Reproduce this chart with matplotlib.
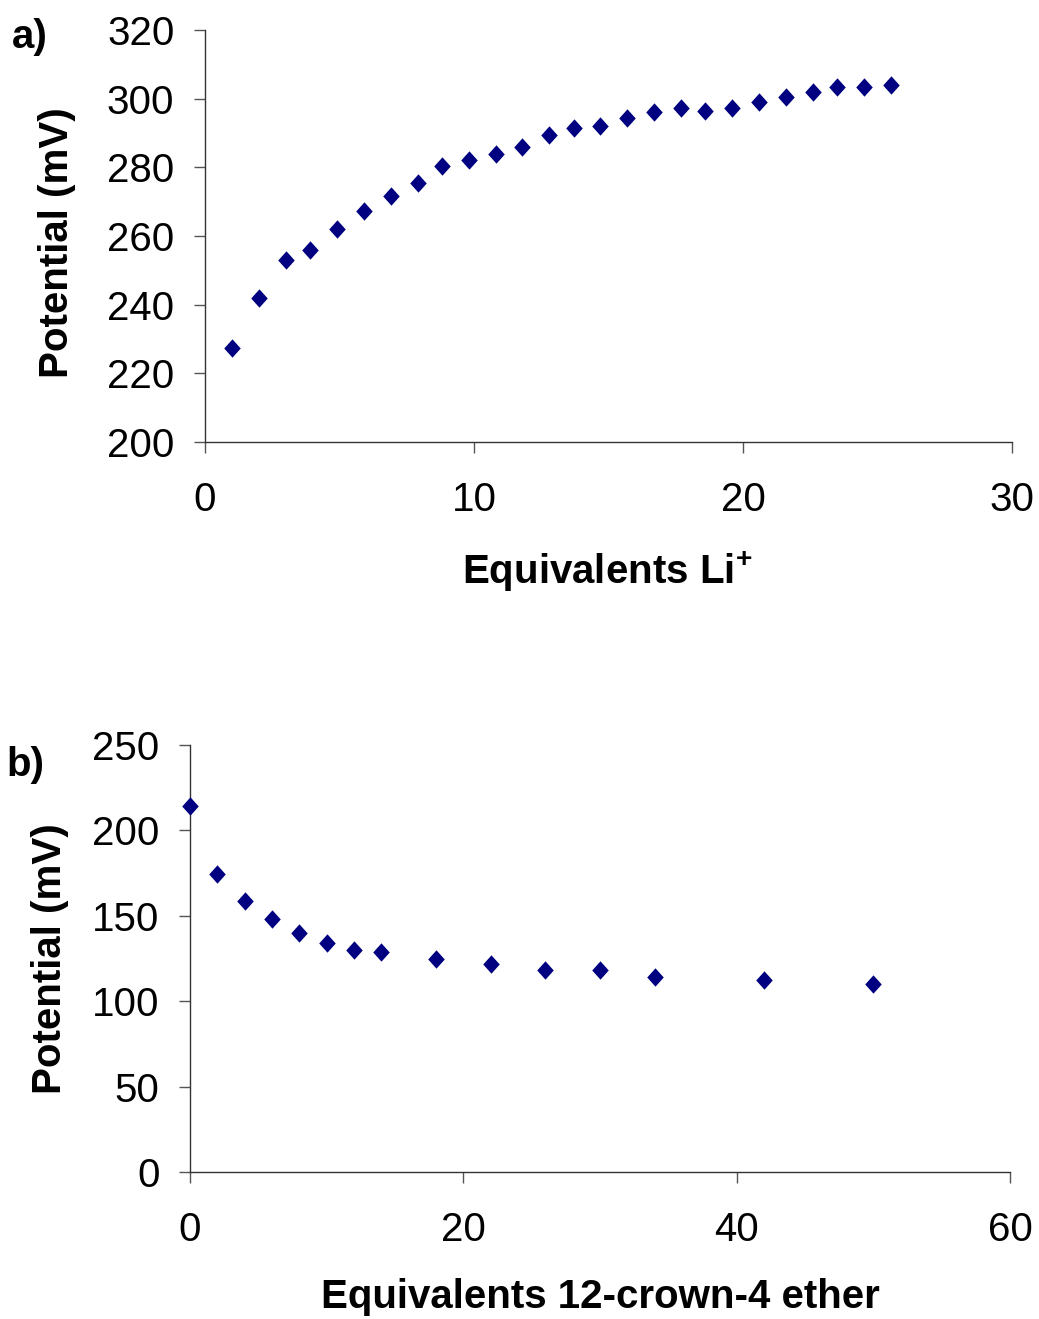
import matplotlib.pyplot as plt
from matplotlib.path import Path

plt.rcParams["font.family"] = ["Liberation Sans", "DejaVu Sans"]
plt.rcParams["mathtext.fontset"] = "custom"
plt.rcParams["mathtext.rm"] = "Liberation Sans"
plt.rcParams["mathtext.bf"] = "Liberation Sans:bold"

# a) titration with Li+
li_equiv = [1.0, 2.0, 3.0, 3.9, 4.9, 5.9, 6.9, 7.9, 8.8, 9.8, 10.8, 11.8, 12.8,
            13.7, 14.7, 15.7, 16.7, 17.7, 18.6, 19.6, 20.6, 21.6, 22.6, 23.5,
            24.5, 25.5]
li_potential = [227.5, 242.0, 253.0, 255.9, 261.9, 267.4, 271.5, 275.3, 280.4,
                282.0, 283.8, 285.9, 289.4, 291.3, 291.9, 294.4, 296.0, 297.4,
                296.3, 297.4, 298.9, 300.6, 301.9, 303.4, 303.4, 303.9]

# b) titration with 12-crown-4 ether
crown_equiv = [0, 2, 4, 6, 8, 10, 12, 14, 18, 22, 26, 30, 34, 42, 50]
crown_potential = [214.6, 174.3, 158.7, 148.4, 140.1, 133.9, 130.0, 129.0,
                   124.7, 121.6, 118.1, 118.1, 114.4, 112.4, 110.1]

diamond = Path([(0, 1), (0.9, 0), (0, -1), (-0.9, 0), (0, 1)],
               [Path.MOVETO, Path.LINETO, Path.LINETO, Path.LINETO, Path.CLOSEPOLY])

fs = 29

fig = plt.figure(figsize=(10.39, 13.19), dpi=100)
ax1 = fig.add_axes([0.1973, 0.6649, 0.7767, 0.3124])
ax2 = fig.add_axes([0.1829, 0.1114, 0.7892, 0.3237])


def style(ax):
    for s in ["top", "right"]:
        ax.spines[s].set_visible(False)
    for s in ["left", "bottom"]:
        ax.spines[s].set_color("#333333")
        ax.spines[s].set_linewidth(1.0)
    ax.tick_params(direction="out", length=8, width=1.0, color="#555555",
                   labelsize=fs)
    ax.tick_params(axis="x", pad=20)
    ax.tick_params(axis="y", pad=14)


ax1.scatter(li_equiv, li_potential, marker=diamond, s=175, color="#000080",
            linewidths=0, clip_on=False)
ax1.set_xlim(0, 30)
ax1.set_ylim(200, 320)
ax1.set_xticks([0, 10, 20, 30])
ax1.set_yticks(range(200, 321, 20))
style(ax1)
ax1.set_xlabel("Equivalents Li$^{\\mathbf{+}}$", fontsize=fs, fontweight="bold")
ax1.set_ylabel("Potential (mV)", fontsize=fs, fontweight="bold")
ax1.xaxis.set_label_coords(0.499, -0.316)
ax1.xaxis.label.set_va("center")
ax1.yaxis.set_label_coords(-0.183, 0.483)
ax1.yaxis.label.set_va("center")

ax2.scatter(crown_equiv, crown_potential, marker=diamond, s=175, color="#000080",
            linewidths=0, clip_on=False, zorder=3)
ax2.set_xlim(0, 60)
ax2.set_ylim(0, 250)
ax2.set_xticks([0, 20, 40, 60])
ax2.set_yticks(range(0, 251, 50))
style(ax2)
ax2.set_xlabel("Equivalents 12-crown-4 ether", fontsize=fs, fontweight="bold")
ax2.set_ylabel("Potential (mV)", fontsize=fs, fontweight="bold")
ax2.xaxis.set_label_coords(0.501, -0.293)
ax2.xaxis.label.set_va("center")
ax2.yaxis.set_label_coords(-0.171, 0.501)
ax2.yaxis.label.set_va("center")

fig.text(30 / 1039, 1 - 37 / 1319, "a)", fontsize=fs, fontweight="bold",
         ha="center", va="center")
fig.text(25 / 1039, 1 - 765 / 1319, "b)", fontsize=fs, fontweight="bold",
         ha="center", va="center")

fig.savefig("out.png", dpi=100)
